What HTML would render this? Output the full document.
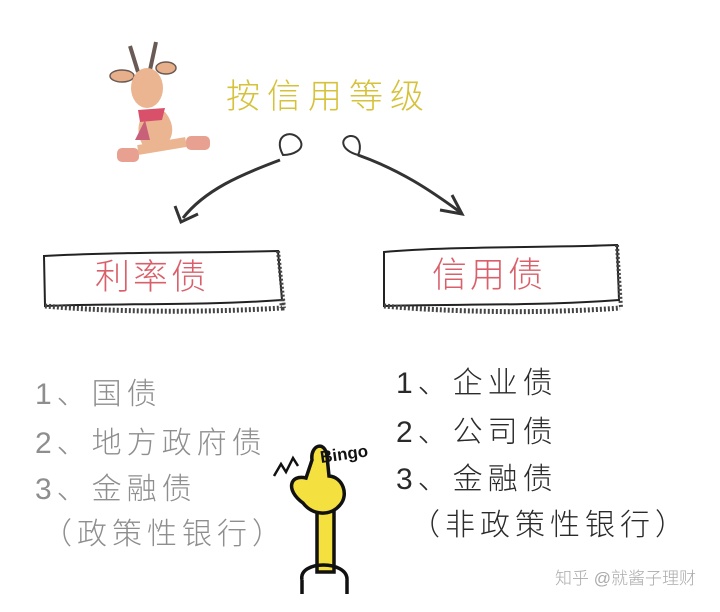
<!DOCTYPE html>
<html><head><meta charset="utf-8"><style>
html,body{margin:0;padding:0;background:#fff;}
body{width:720px;height:612px;position:relative;overflow:hidden;font-family:"Liberation Sans","Noto Sans CJK SC",sans-serif;}
.t{position:absolute;white-space:nowrap;font-weight:300;line-height:1;}
.l{color:#8e8e8e;font-size:30px;letter-spacing:5px;}
.r{color:#2a2a2a;font-size:30px;letter-spacing:5px;}
</style></head><body>
<svg width="720" height="612" style="position:absolute;left:0;top:0">
 <g>
  <path d="M138 72 L130 46 M150 70 L156 42" stroke="#6a5a55" stroke-width="4" fill="none"/>
  <ellipse cx="122" cy="76" rx="12" ry="6" fill="#e8b08a" stroke="#6a5a55" stroke-width="1.5"/>
  <ellipse cx="166" cy="68" rx="10" ry="6" fill="#e8b08a" stroke="#6a5a55" stroke-width="1.5"/>
  <ellipse cx="147" cy="88" rx="16" ry="20" fill="#eab590"/>
  <path d="M150 110 C130 120 140 150 150 150 C170 150 180 130 165 112Z" fill="#eab590"/>
  <path d="M138 110 L165 108 L162 120 L140 122Z" fill="#d9506a"/>
  <path d="M145 120 L135 140 L150 140Z" fill="#c9607a"/>
  <rect x="117" y="148" width="22" height="14" rx="5" fill="#e8a090"/>
  <rect x="186" y="136" width="24" height="14" rx="5" fill="#e8a090"/>
  <path d="M138 150 L186 142" stroke="#eab590" stroke-width="10"/>
 </g>
 <path d="M280 160 C240 175 205 190 183 218" stroke="#333" stroke-width="3" fill="none"/>
 <path d="M175 206 L181 222 L198 214" stroke="#333" stroke-width="3" fill="none"/>
 <path d="M283 155 C272 135 292 128 300 140 C306 150 292 155 283 155Z" stroke="#333" stroke-width="2" fill="none"/>
 <path d="M358 155 C400 170 430 190 460 212" stroke="#333" stroke-width="3" fill="none"/>
 <path d="M440 210 L462 214 L452 195" stroke="#333" stroke-width="3" fill="none"/>
 <path d="M358 155 C340 150 340 138 350 136 C360 135 362 148 358 155Z" stroke="#333" stroke-width="2" fill="none"/>
 <path d="M44 256 C110 252 200 253 278 251 L282 300 C200 306 110 303 45 306Z" fill="#fff" stroke="#222" stroke-width="2"/>
 <path d="M45 306 C110 312 200 313 282 308 L282 300" stroke="#444" stroke-width="5" fill="none" stroke-dasharray="2 2"/>
 <path d="M278 251 L284 308" stroke="#444" stroke-width="4" fill="none" stroke-dasharray="2 2"/>
 <path d="M384 252 C450 246 540 248 617 245 L619 300 C540 306 450 304 384 306Z" fill="#fff" stroke="#222" stroke-width="2"/>
 <path d="M384 306 C450 312 540 314 620 308" stroke="#444" stroke-width="5" fill="none" stroke-dasharray="2 2"/>
 <path d="M617 245 L621 308" stroke="#444" stroke-width="4" fill="none" stroke-dasharray="2 2"/>
 <!-- hand -->
 <path d="M317 510 L317 572 L334 572 L334 510" fill="#f4e140" stroke="#111" stroke-width="3.5"/>
 <path d="M303 503 C285 490 290 474 306 478 L312 460 C310 445 325 440 327 456 L329 476 C343 477 349 495 340 505 C330 517 312 515 303 503Z" fill="#f4e140" stroke="#111" stroke-width="3.5"/>
 <path d="M302 580 C298 560 348 560 347 580 M302 580 L302 594 M347 580 L347 594" stroke="#111" stroke-width="3.5" fill="none"/>
 <path d="M274 476 L281 464 L286 472 L293 458 L298 466" stroke="#111" stroke-width="2.5" fill="none"/>
 <text x="321" y="463" font-family="Liberation Sans" font-weight="bold" font-size="17" fill="#111" transform="rotate(-8 321 463)">Bingo</text>
</svg>
<div class="t" style="left:226px;top:80px;font-size:34px;color:#d6c23a;letter-spacing:7px">按信用等级</div>
<div class="t" style="left:95px;top:260px;font-size:35px;color:#d9606a;letter-spacing:3px">利率债</div>
<div class="t" style="left:432px;top:258px;font-size:35px;color:#d9606a;letter-spacing:3px">信用债</div>
<div class="t l" style="left:35px;top:380px">1、国债</div>
<div class="t l" style="left:35px;top:429px">2、地方政府债</div>
<div class="t l" style="left:35px;top:475px">3、金融债</div>
<div class="t l" style="left:42px;top:520px">（政策性银行）</div>
<div class="t r" style="left:396px;top:369px">1、企业债</div>
<div class="t r" style="left:396px;top:418px">2、公司债</div>
<div class="t r" style="left:396px;top:465px">3、金融债</div>
<div class="t r" style="left:410px;top:511px">（非政策性银行）</div>
<div class="t" style="left:555px;top:570px;font-size:17px;color:#aaa">知乎 @就酱子理财</div>
</body></html>
